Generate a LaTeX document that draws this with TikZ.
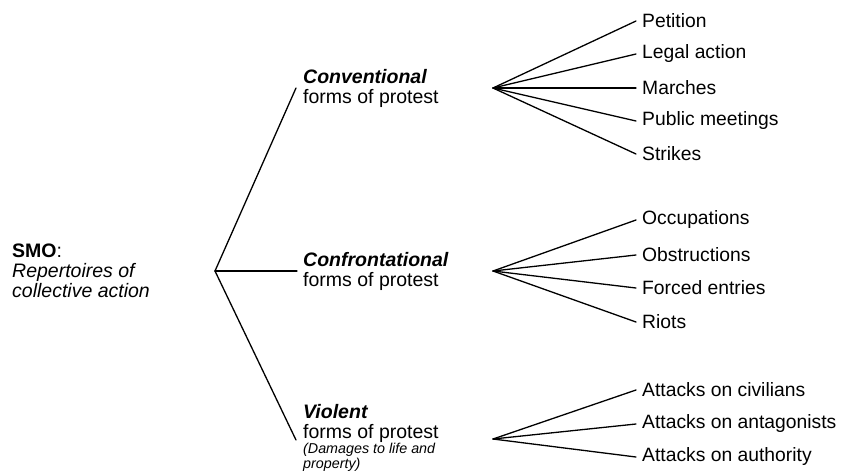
\documentclass[tikz,border=0pt]{standalone}
\usepackage{fontspec}
\setmainfont{Liberation Sans}
\begin{document}
\begin{tikzpicture}[x=1pt,y=-1pt,
  lbl/.style={inner sep=0pt, align=left, anchor=west, font=\fontsize{19.5}{20}\selectfont},
  sub/.style={inner sep=0pt, align=left, anchor=north west, font=\fontsize{14.3}{14.5}\selectfont\itshape},
  leaf/.style={anchor=west, inner ysep=0pt, inner xsep=6pt, font=\fontsize{19.3}{20}\selectfont},
  br/.style={line width=1.3pt, line join=round, line cap=round}]
\useasboundingbox (0,0) rectangle (841,475);
% root
\node[lbl] (smo) at (12,271) {\textbf{SMO}:\\\textit{Repertoires of}\\\textit{collective action}};
\coordinate (root) at (215,271);
\coordinate (e1) at (296,88);
\coordinate (e2) at (297,271);
\coordinate (e3) at (296,440);
\draw[br] (root) -- (e1);
\draw[br] (root) -- (e2);
\draw[br] (root) -- (e3);
% categories
\node[lbl] (conv) at (303,88) {\textbf{\textit{Conventional}}\\forms of protest};
\node[lbl] (conf) at (303,271) {\textbf{\textit{Confrontational}}\\forms of protest};
\node[lbl] (viol) at (303,423) {\textbf{\textit{Violent}}\\forms of protest};
\node[sub] (vsub) at ([yshift=-1pt]viol.south west) {(Damages to life and\\property)};
% fan points
\coordinate (cf) at (493,88);
\coordinate (kf) at (493,271);
\coordinate (vf) at (493,439);
% conventional leaves
\node[leaf] (c1) at (636,21) {Petition};
\node[leaf] (c2) at (636,54) {Legal action};
\node[leaf] (c3) at (636,88) {Marches};
\node[leaf] (c4) at (636,121) {Public meetings};
\node[leaf] (c5) at (636,154) {Strikes};
\foreach \n in {c1,c2,c3,c4,c5} \draw[br] (cf) -- (\n.west);
% confrontational leaves
\node[leaf] (k1) at (636,220) {Occupations};
\node[leaf] (k2) at (636,255) {Obstructions};
\node[leaf] (k3) at (636,288) {Forced entries};
\node[leaf] (k4) at (636,322) {Riots};
\foreach \n in {k1,k2,k3,k4} \draw[br] (kf) -- (\n.west);
% violent leaves
\node[leaf] (v1) at (636,390) {Attacks on civilians};
\node[leaf] (v2) at (636,424) {Attacks on antagonists};
\node[leaf] (v3) at (636,457) {Attacks on authority};
\foreach \n in {v1,v2,v3} \draw[br] (vf) -- (\n.west);
\end{tikzpicture}
\end{document}
